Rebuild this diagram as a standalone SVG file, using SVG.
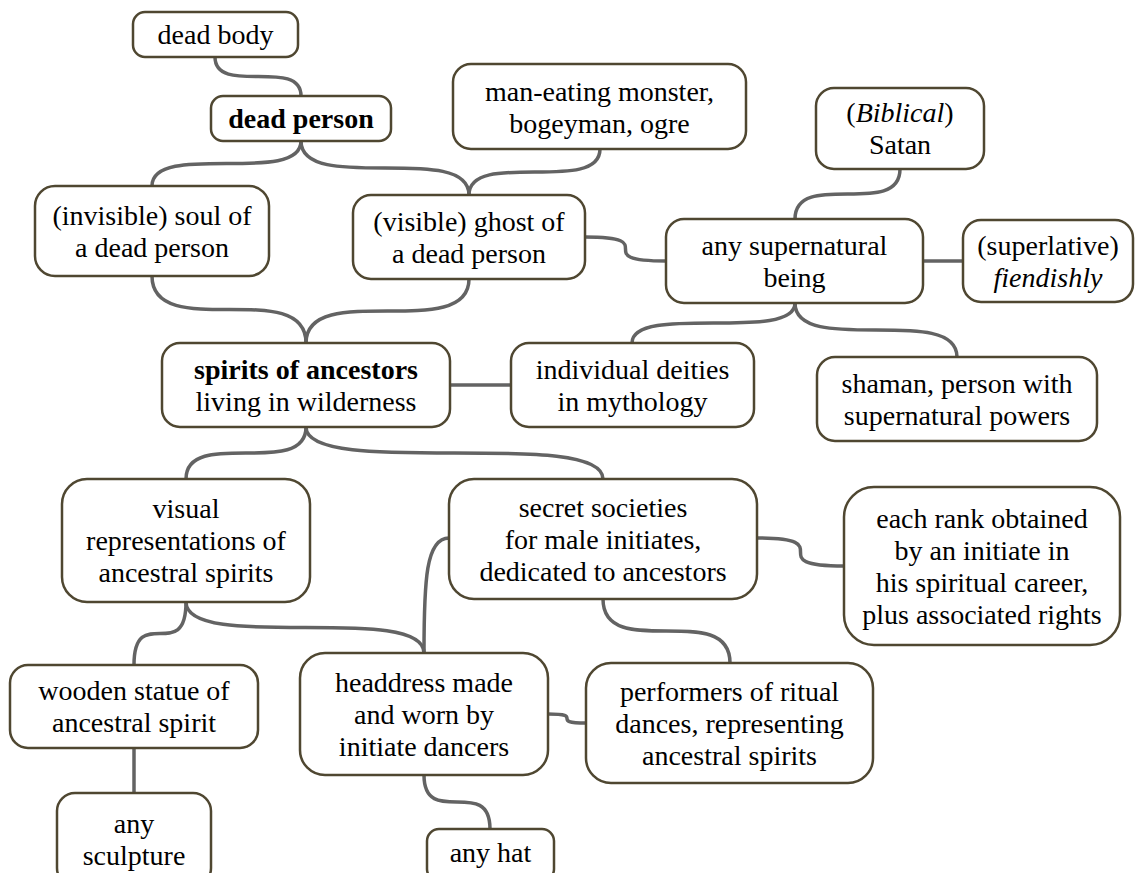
<svg xmlns="http://www.w3.org/2000/svg" width="1135" height="873" viewBox="0 0 1135 873">
<style>
.n rect{fill:#fff;stroke:#4f4731;stroke-width:2.5}
.n text{font-family:"Liberation Serif","Times New Roman",serif;font-size:28px;fill:#000;text-anchor:middle}
.b{font-weight:bold}
.i{font-style:italic}
.c path{fill:none;stroke:#636363;stroke-width:3.5}
</style>
<rect width="1135" height="873" fill="#fff"/>
<g class="c" id="connectors">
<path d="M215,57 C215,96 301,57 301,96"/>
<path d="M301,141 C301,186 152,141 152,186"/>
<path d="M301,141 C301,195 469,141 469,195"/>
<path d="M600,149 C600,195 469,149 469,195"/>
<path d="M152,276 C152,343 306,276 306,343"/>
<path d="M469,279 C469,343 306,279 306,343"/>
<path d="M585,237 C666,237 585,261 666,261"/>
<path d="M900,169 C900,219 795,169 795,219"/>
<path d="M923,261 L963,261"/>
<path d="M795,303 C795,343 632,303 632,343"/>
<path d="M795,303 C795,357 957,303 957,357"/>
<path d="M450,385 L511,385"/>
<path d="M306,427 C306,479 186,427 186,479"/>
<path d="M306,427 C306,479 603,427 603,479"/>
<path d="M757,538 C844,538 757,566 844,566"/>
<path d="M186,602 C186,665 134,602 134,665"/>
<path d="M186,602 C186,653 424,602 424,653"/>
<path d="M449,538 C426,538 424,580 424,653"/>
<path d="M603,599 C603,663 730,599 730,663"/>
<path d="M548,714 C586,714 548,723 586,723"/>
<path d="M134,748 L134,793"/>
<path d="M424,775 C424,829 490,775 490,829"/>
</g>
<g class="n" id="dead-body"><rect x="133" y="12" width="165" height="45" rx="12"/><text x="215.5" y="44">dead body</text></g>
<g class="n" id="dead-person"><rect x="211" y="96" width="180" height="45" rx="12"/><text x="301" y="128" class="b">dead person</text></g>
<g class="n" id="monster"><rect x="453" y="64" width="293" height="85" rx="18"/><text x="599.5" y="100.5">man-eating monster,</text><text x="599.5" y="132.5">bogeyman, ogre</text></g>
<g class="n" id="satan"><rect x="816" y="88" width="168" height="81" rx="18"/><text x="900" y="122">(<tspan class="i">Biblical</tspan>)</text><text x="900" y="154">Satan</text></g>
<g class="n" id="soul"><rect x="35" y="186" width="234" height="90" rx="20"/><text x="152" y="224.5">(invisible) soul of</text><text x="152" y="256.5">a dead person</text></g>
<g class="n" id="ghost"><rect x="353" y="195" width="232" height="84" rx="18"/><text x="469" y="230.5">(visible) ghost of</text><text x="469" y="262.5">a dead person</text></g>
<g class="n" id="supernatural"><rect x="666" y="219" width="257" height="84" rx="18"/><text x="794.5" y="254.5">any supernatural</text><text x="794.5" y="286.5">being</text></g>
<g class="n" id="superlative"><rect x="963" y="220" width="170" height="82" rx="18"/><text x="1048" y="254.5">(superlative)</text><text x="1048" y="286.5" class="i">fiendishly</text></g>
<g class="n" id="spirits"><rect x="162" y="343" width="288" height="84" rx="18"/><text x="306" y="378.5" class="b">spirits of ancestors</text><text x="306" y="410.5">living in wilderness</text></g>
<g class="n" id="deities"><rect x="511" y="343" width="243" height="84" rx="18"/><text x="632.5" y="378.5">individual deities</text><text x="632.5" y="410.5">in mythology</text></g>
<g class="n" id="shaman"><rect x="817" y="357" width="280" height="84" rx="18"/><text x="957" y="392.5">shaman, person with</text><text x="957" y="424.5">supernatural powers</text></g>
<g class="n" id="visual"><rect x="62" y="479" width="248" height="123" rx="25"/><text x="186" y="518">visual</text><text x="186" y="550">representations of</text><text x="186" y="582">ancestral spirits</text></g>
<g class="n" id="secret"><rect x="449" y="479" width="308" height="120" rx="25"/><text x="603" y="516.5">secret societies</text><text x="603" y="548.5">for male initiates,</text><text x="603" y="580.5">dedicated to ancestors</text></g>
<g class="n" id="rank"><rect x="844" y="487" width="276" height="158" rx="30"/><text x="982" y="527.5">each rank obtained</text><text x="982" y="559.5">by an initiate in</text><text x="982" y="591.5">his spiritual career,</text><text x="982" y="623.5">plus associated rights</text></g>
<g class="n" id="wooden"><rect x="10" y="665" width="248" height="83" rx="18"/><text x="134" y="700">wooden statue of</text><text x="134" y="732">ancestral spirit</text></g>
<g class="n" id="headdress"><rect x="300" y="653" width="248" height="122" rx="25"/><text x="424" y="691.5">headdress made</text><text x="424" y="723.5">and worn by</text><text x="424" y="755.5">initiate dancers</text></g>
<g class="n" id="performers"><rect x="586" y="663" width="287" height="120" rx="25"/><text x="729.5" y="700.5">performers of ritual</text><text x="729.5" y="732.5">dances, representing</text><text x="729.5" y="764.5">ancestral spirits</text></g>
<g class="n" id="sculpture"><rect x="57" y="793" width="154" height="93" rx="18"/><text x="134" y="833">any</text><text x="134" y="865">sculpture</text></g>
<g class="n" id="any-hat"><rect x="427" y="829" width="127" height="52" rx="12"/><text x="490.5" y="862">any hat</text></g>
</svg>
